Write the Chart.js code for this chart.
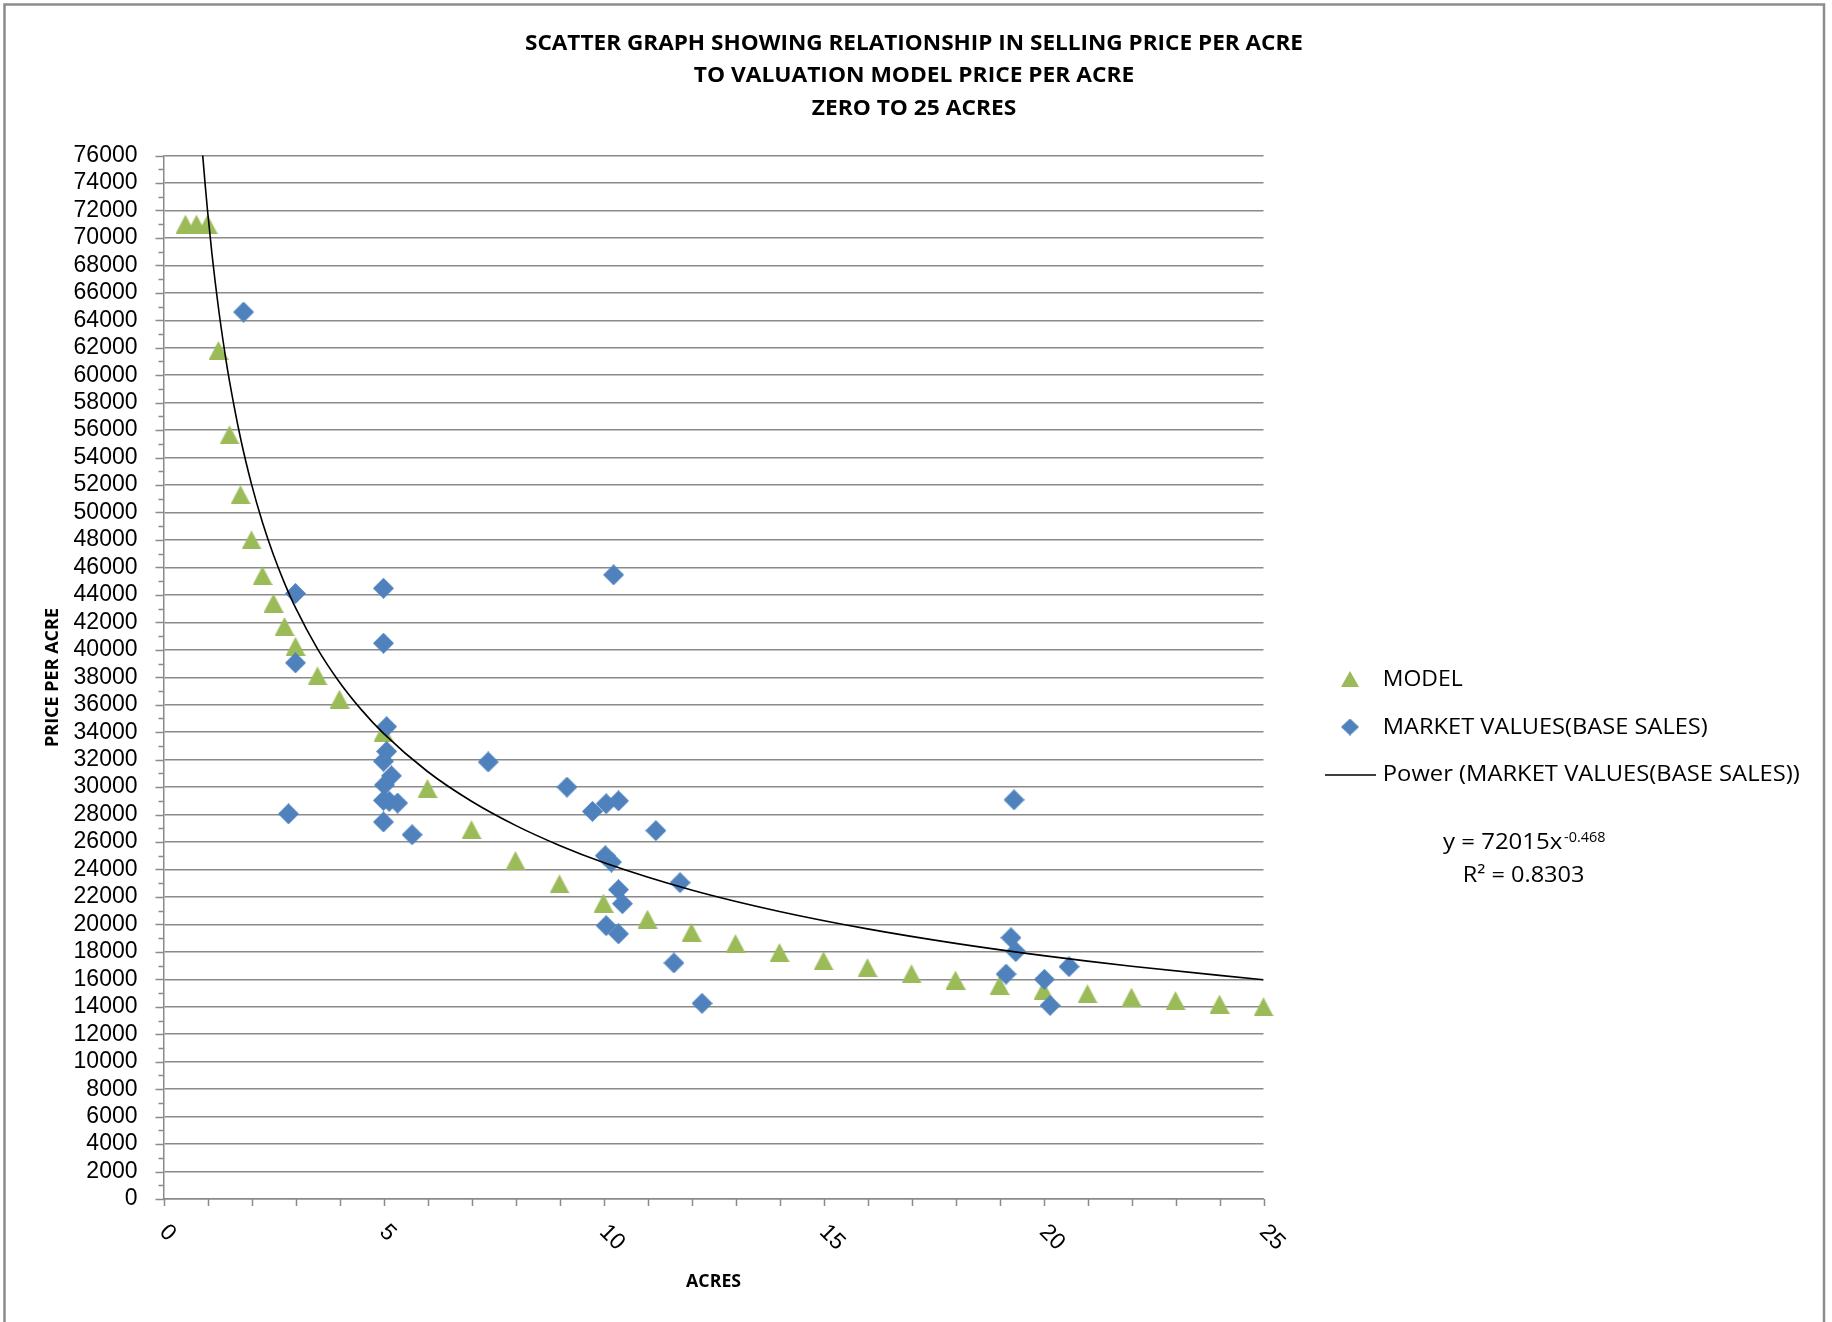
<!DOCTYPE html>
<html><head><meta charset="utf-8">
<script src="https://cdn.jsdelivr.net/npm/chart.js@4.4.1/dist/chart.umd.min.js"></script>
<style>html,body{margin:0;padding:0;background:#fff;overflow:hidden}canvas{display:block}</style>
</head><body>
<canvas id="c" width="1832" height="1322"></canvas>
<script>
// ---------- texts ----------
const titleLines = ['SCATTER GRAPH SHOWING RELATIONSHIP IN SELLING PRICE PER ACRE', 'TO VALUATION MODEL PRICE PER ACRE', 'ZERO TO 25 ACRES'];
const xAxisTitle = 'ACRES';
const yAxisTitle = 'PRICE PER ACRE';
const modelLabel = 'MODEL';
const marketLabel = 'MARKET VALUES(BASE SALES)';
const trendLabel = 'Power (MARKET VALUES(BASE SALES))';
const equationMain = 'y = 72015x';
const equationExp = '-0.468';
const rSquaredText = 'R\u00B2 = 0.8303';

// ---------- axes ----------
const xMin = 0, xMax = 25;
const yMin = 0, yMax = 76000, yStep = 2000;
const xTickLabels = ['0', '5', '10', '15', '20', '25'];

// ---------- data ----------
const modelX = [0.5, 0.75, 1, 1.25, 1.5, 1.75, 2, 2.25, 2.5, 2.75, 3, 3.5, 4, 5, 6, 7, 8, 9, 10, 11, 12, 13, 14, 15, 16, 17, 18, 19, 20, 21, 22, 23, 24, 25];
const modelY = [71000, 71000, 71000, 61800, 55650, 51300, 48000, 45400, 43400, 41700, 40250, 38100, 36400, 34000, 29900, 26900, 24650, 22950, 21550, 20380, 19420, 18600, 17950, 17350, 16850, 16400, 15950, 15550, 15200, 14950, 14700, 14450, 14200, 14000];

const marketX = [1.82, 3.0, 3.0, 2.84, 5.0, 5.0, 5.07, 5.07, 5.0, 5.18, 5.02, 5.0, 5.13, 5.32, 5.0, 5.65, 7.38, 9.17, 9.75, 10.06, 10.34, 10.23, 11.19, 10.04, 10.18, 10.34, 10.43, 10.06, 10.34, 11.74, 11.6, 12.24, 19.33, 19.26, 19.37, 19.15, 20.02, 20.58, 20.15];
const marketY = [64600, 44100, 39050, 28050, 44480, 40480, 34400, 32600, 31880, 30820, 30150, 29030, 28960, 28840, 27460, 26530, 31830, 30000, 28230, 28790, 29000, 45460, 26830, 25000, 24540, 22530, 21510, 19910, 19310, 23040, 17190, 14250, 29070, 19030, 18020, 16380, 16000, 16920, 14100];

const trendX = [0.89, 0.95, 1, 1.1, 1.25, 1.4, 1.5, 1.75, 2, 2.25, 2.5, 2.75, 3, 3.5, 4, 4.5, 5, 6, 7, 8, 9, 10, 12, 14, 16, 18, 20, 22, 25];
const trendY = [76051, 73765, 72015, 68873, 64874, 61523, 59568, 55422, 52064, 49271, 46901, 44857, 43066, 40069, 37641, 35624, 33910, 31136, 28969, 27214, 25754, 24515, 22510, 20943, 19674, 18619, 17723, 16950, 15966];

// ---------- styles ----------
const GREEN = '#9BBB59', BLUE = '#4F81BD', GRAY = '#8a8a8a';

function triangleImg(w, h, color) {
  const cv = document.createElement('canvas'); cv.width = w; cv.height = h;
  const g = cv.getContext('2d'); g.fillStyle = color;
  g.beginPath(); g.moveTo(w / 2, 0); g.lineTo(w, h); g.lineTo(0, h); g.closePath(); g.fill();
  return cv;
}
function diamondImg(w, h, color) {
  const cv = document.createElement('canvas'); cv.width = w; cv.height = h;
  const g = cv.getContext('2d'); g.fillStyle = color;
  g.beginPath(); g.moveTo(w / 2, 0); g.lineTo(w, h / 2); g.lineTo(w / 2, h); g.lineTo(0, h / 2); g.closePath(); g.fill();
  return cv;
}
const triData = triangleImg(20, 19, GREEN);
const diaData = diamondImg(21, 21, BLUE);
const triLegend = triangleImg(18, 16, GREEN);
const diaLegend = diamondImg(18, 17, BLUE);

function fitText(c, text, x, y, font, targetW, align) {
  c.save();
  c.font = font;
  const w = c.measureText(text).width;
  const s = targetW / w;
  c.translate(x, y);
  c.scale(s, 1);
  c.textAlign = align;
  c.textBaseline = 'alphabetic';
  c.fillText(text, 0, 0);
  c.restore();
}

const decor = {
  id: 'decor',
  beforeDraw(chart) {
    const c = chart.ctx;
    c.save(); c.fillStyle = '#fff'; c.fillRect(0, 0, chart.width, chart.height); c.restore();
  },
  afterDraw(chart) {
    const c = chart.ctx, xs = chart.scales.x, ys = chart.scales.y, a = chart.chartArea;
    c.save();
    // tick marks
    c.strokeStyle = GRAY; c.lineWidth = 1.5;
    c.beginPath();
    for (let v = yMin; v <= yMax; v += yStep / 2) {
      const y = Math.round(ys.getPixelForValue(v)) + 0.5;
      const len = (v % yStep === 0) ? 8 : 5;
      c.moveTo(a.left - len, y); c.lineTo(a.left, y);
    }
    for (let v = xMin; v <= xMax; v += 1) {
      const x = Math.round(xs.getPixelForValue(v)) + 0.5;
      c.moveTo(x, a.bottom); c.lineTo(x, a.bottom + 7);
    }
    c.stroke();

    // x tick labels (rotated clockwise)
    c.fillStyle = '#000';
    c.font = '23px "Liberation Sans"';
    xTickLabels.forEach(t => {
      const x = xs.getPixelForValue(Number(t));
      c.save();
      c.translate(x - 0.5, a.bottom + 29.5);
      c.rotate(Math.PI / 4);
      c.textAlign = 'left'; c.textBaseline = 'middle';
      c.fillText(t, 0, 0);
      c.restore();
    });

    // titles
    c.fillStyle = '#000';
    const tb = [50, 82.3, 114.6], tw = [778, 440.5, 204.5];
    titleLines.forEach((t, i) => fitText(c, t, 914, tb[i], 'bold 21px "Open Sans"', tw[i], 'center'));

    // axis titles
    fitText(c, xAxisTitle, 713.6, 1287.3, 'bold 17px "Open Sans"', 55, 'center');
    c.save();
    c.translate(58.3, 677.5); c.rotate(-Math.PI / 2);
    fitText(c, yAxisTitle, 0, 0, 'bold 18.5px "Open Sans"', 139, 'center');
    c.restore();

    // legend
    const ds = chart.data.datasets;
    const lgFont = '21.5px "Open Sans"';
    c.drawImage(triLegend, 1350 - 9, 679 - 8);
    fitText(c, ds[2].label, 1382.8, 686, lgFont, 80, 'left');
    c.drawImage(diaLegend, 1350 - 9, 727 - 8.5);
    fitText(c, ds[1].label, 1382.8, 733.5, lgFont, 325, 'left');
    c.strokeStyle = '#000'; c.lineWidth = 1.6;
    c.beginPath(); c.moveTo(1325, 775); c.lineTo(1376, 775); c.stroke();
    fitText(c, ds[0].label, 1382.8, 781, lgFont, 417, 'left');

    // trendline equation
    fitText(c, equationMain, 1443, 849.4, lgFont, 119.3, 'left');
    fitText(c, equationExp, 1564, 841.8, '14px "Open Sans"', 41.5, 'left');
    fitText(c, rSquaredText, 1462.8, 881.7, lgFont, 121.6, 'left');

    // outer frame
    c.strokeStyle = '#8c8c8c'; c.lineWidth = 2.5;
    c.beginPath();
    c.moveTo(4.5, 1322); c.lineTo(4.5, 4.5); c.lineTo(1824, 4.5); c.lineTo(1824, 1322);
    c.stroke();
    c.restore();
  }
};

new Chart(document.getElementById('c'), {
  type: 'scatter',
  data: {
    datasets: [
      {
        label: trendLabel, type: 'line',
        data: trendX.map((x, i) => ({ x, y: trendY[i] })),
        borderColor: '#000', borderWidth: 1.6, pointRadius: 0, showLine: true, fill: false,
        cubicInterpolationMode: 'monotone', order: 0
      },
      {
        label: marketLabel,
        data: marketX.map((x, i) => ({ x, y: marketY[i] })),
        pointStyle: diaData, pointRadius: 11, backgroundColor: BLUE, borderColor: BLUE,
        order: 1, clip: false
      },
      {
        label: modelLabel,
        data: modelX.map((x, i) => ({ x, y: modelY[i] })),
        pointStyle: triData, pointRadius: 11, backgroundColor: GREEN, borderColor: GREEN,
        order: 2, clip: false
      }
    ]
  },
  options: {
    responsive: false, animation: false,
    layout: { padding: { top: 155.5, right: 568.5, bottom: 0, left: 0 } },
    plugins: { legend: { display: false }, title: { display: false }, tooltip: { enabled: false } },
    scales: {
      x: {
        type: 'linear', min: xMin, max: xMax,
        ticks: { display: false, stepSize: 1 },
        grid: { display: false },
        border: { display: true, color: GRAY, width: 1.5 },
        afterFit(s) { s.height = 123; }
      },
      y: {
        type: 'linear', min: yMin, max: yMax,
        ticks: {
          stepSize: yStep, autoSkip: false, padding: 26, color: '#000',
          font: { family: 'Liberation Sans', size: 23 },
          callback: v => String(v)
        },
        grid: { color: GRAY, lineWidth: 1.5, drawTicks: false },
        border: { display: true, color: GRAY, width: 1.5 },
        afterFit(s) { s.width = 163.5; }
      }
    }
  },
  plugins: [decor]
});
</script>
</body></html>
